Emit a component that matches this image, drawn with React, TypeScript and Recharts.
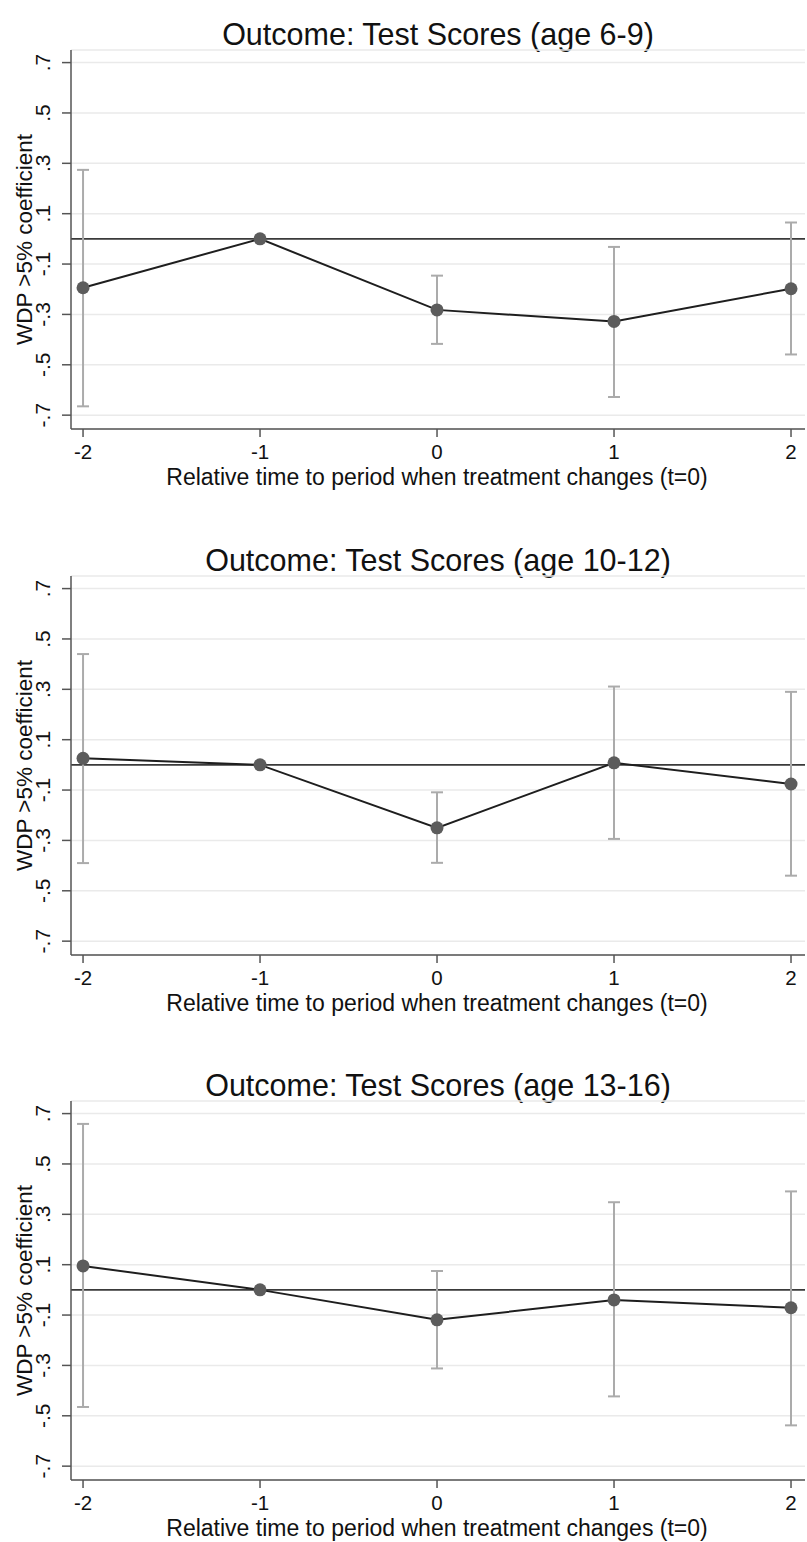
import React from "react";
import {
  ComposedChart,
  Line,
  XAxis,
  YAxis,
  CartesianGrid,
  ReferenceLine,
  ErrorBar,
} from "recharts";

// event-time periods and y-axis tick values
const periods = [-2, -1, 0, 1, 2];
const yTicks = [-0.7, -0.5, -0.3, -0.1, 0.1, 0.3, 0.5, 0.7];

const titles = [
  "Outcome: Test Scores (age 6-9)",
  "Outcome: Test Scores (age 10-12)",
  "Outcome: Test Scores (age 13-16)",
];

// point estimates and 95% CI bounds, t = -1 is the reference period
const coefAge6to9 = [-0.194, 0, -0.282, -0.328, -0.198];
const lowerAge6to9 = [-0.665, 0, -0.417, -0.628, -0.459];
const upperAge6to9 = [0.274, 0, -0.146, -0.032, 0.065];

const coefAge10to12 = [0.026, 0, -0.25, 0.008, -0.076];
const lowerAge10to12 = [-0.39, 0, -0.389, -0.294, -0.44];
const upperAge10to12 = [0.44, 0, -0.109, 0.311, 0.29];

const coefAge13to16 = [0.095, 0, -0.119, -0.04, -0.071];
const lowerAge13to16 = [-0.465, 0, -0.312, -0.423, -0.538];
const upperAge13to16 = [0.659, 0, 0.075, 0.348, 0.391];

const panels = [
  { title: titles[0], coef: coefAge6to9, lower: lowerAge6to9, upper: upperAge6to9 },
  { title: titles[1], coef: coefAge10to12, lower: lowerAge10to12, upper: upperAge10to12 },
  { title: titles[2], coef: coefAge13to16, lower: lowerAge13to16, upper: upperAge13to16 },
];

const panelTops = [0, 526, 1051];

const FONT = "'Liberation Sans', Arial, sans-serif";
const AXIS_COLOR = "#555";

const fmtY = (v: number) =>
  (v < 0 ? "-" : "") + Math.abs(v).toFixed(1).replace(/^0/, "");

const YTick = (props: any) => {
  const { y, payload } = props;
  const bx = 50;
  return (
    <text
      x={bx}
      y={y}
      transform={`rotate(-90, ${bx}, ${y})`}
      textAnchor="middle"
      fontSize={21}
      fontFamily={FONT}
      fill="#111"
    >
      {fmtY(payload.value)}
    </text>
  );
};

const XTick = (props: any) => {
  const { x, y, payload } = props;
  return (
    <text x={x} y={y + 20} textAnchor="middle" fontSize={20.5} fontFamily={FONT} fill="#111">
      {payload.value}
    </text>
  );
};

function EventStudyPanel({
  title,
  coef,
  lower,
  upper,
}: {
  title: string;
  coef: number[];
  lower: number[];
  upper: number[];
}) {
  const data = periods.map((t, i) => ({
    t,
    coef: coef[i],
    err: [coef[i] - lower[i], upper[i] - coef[i]],
  }));

  return (
    <div style={{ position: "relative", width: 807, height: 525 }}>
      <div
        style={{
          position: "absolute",
          top: 19,
          left: 71,
          width: 734,
          textAlign: "center",
          fontSize: 30.5,
          lineHeight: 1,
          fontFamily: FONT,
          color: "#111",
        }}
      >
        {title}
      </div>
      <ComposedChart
        width={807}
        height={525}
        data={data}
        margin={{ top: 50, right: 2, bottom: 0, left: 0 }}
      >
        <CartesianGrid horizontal vertical={false} stroke="#eaeaea" strokeWidth={1.5} />
        <XAxis
          dataKey="t"
          type="number"
          domain={[-2.068, 2.079]}
          ticks={periods}
          height={96}
          tickSize={8}
          tick={<XTick />}
          axisLine={{ stroke: AXIS_COLOR, strokeWidth: 1.5 }}
          tickLine={{ stroke: AXIS_COLOR, strokeWidth: 1.5 }}
          allowDataOverflow
          label={{
            content: (p: any) => {
              const vb = p.viewBox;
              return (
                <text
                  x={vb.x + vb.width / 2 - 1}
                  y={vb.y + 56}
                  textAnchor="middle"
                  fontSize={23}
                  fontFamily={FONT}
                  fill="#111"
                >
                  Relative time to period when treatment changes (t=0)
                </text>
              );
            },
          }}
        />
        <YAxis
          type="number"
          domain={[-0.755, 0.75]}
          ticks={yTicks}
          width={71}
          tickSize={9}
          tick={<YTick />}
          axisLine={{ stroke: AXIS_COLOR, strokeWidth: 1.5 }}
          tickLine={{ stroke: AXIS_COLOR, strokeWidth: 1.5 }}
          allowDataOverflow
          label={{
            content: (p: any) => {
              const vb = p.viewBox;
              const cy = vb.y + vb.height / 2;
              return (
                <text
                  x={32}
                  y={cy}
                  transform={`rotate(-90, 32, ${cy})`}
                  textAnchor="middle"
                  fontSize={22.5}
                  fontFamily={FONT}
                  fill="#111"
                >
                  WDP &gt;5% coefficient
                </text>
              );
            },
          }}
        />
        <ReferenceLine y={0} stroke="#3a3a3a" strokeWidth={1.6} />
        <Line
          type="linear"
          dataKey="coef"
          stroke="#1e1e1e"
          strokeWidth={2}
          dot={{ r: 6.5, fill: "#5c5c5c", stroke: "#5c5c5c", strokeWidth: 0 }}
          activeDot={false}
          isAnimationActive={false}
        >
          <ErrorBar
            dataKey="err"
            direction="y"
            width={6}
            stroke="#ababab"
            strokeWidth={2}
            isAnimationActive={false}
          />
        </Line>
      </ComposedChart>
    </div>
  );
}

export default function App() {
  return (
    <div
      style={{
        position: "absolute",
        top: 0,
        left: 0,
        width: 807,
        height: 1542,
        background: "#fff",
        overflow: "hidden",
      }}
    >
      {panels.map((p, i) => (
        <div key={i} style={{ position: "absolute", top: panelTops[i], left: 0 }}>
          <EventStudyPanel {...p} />
        </div>
      ))}
    </div>
  );
}
